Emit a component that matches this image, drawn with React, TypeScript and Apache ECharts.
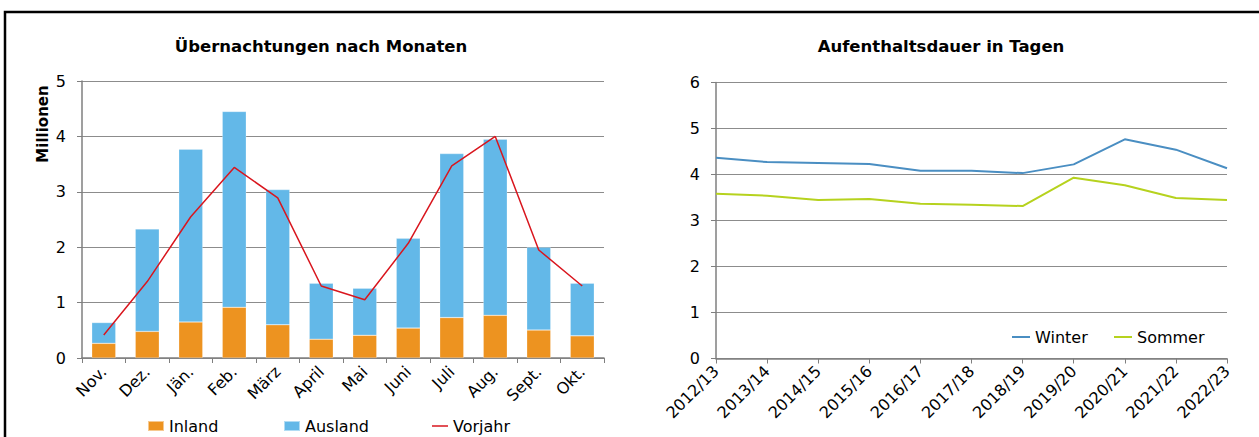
import React, { useEffect, useRef } from "react";
import * as echarts from "echarts";

const months = ["Nov.", "Dez.", "Jän.", "Feb.", "März", "April", "Mai", "Juni", "Juli", "Aug.", "Sept.", "Okt."];
const inland = [0.265, 0.48, 0.65, 0.915, 0.6, 0.34, 0.41, 0.54, 0.73, 0.77, 0.505, 0.4];
const ausland = [0.375, 1.85, 3.12, 3.535, 2.44, 1.01, 0.85, 1.62, 2.96, 3.18, 1.495, 0.95];
const vorjahr = [0.415, 1.38, 2.55, 3.44, 2.89, 1.3, 1.05, 2.07, 3.47, 4.0, 1.95, 1.3];

const seasons = ["2012/13", "2013/14", "2014/15", "2015/16", "2016/17", "2017/18", "2018/19", "2019/20", "2020/21", "2021/22", "2022/23"];
const winter = [4.365, 4.27, 4.25, 4.23, 4.08, 4.08, 4.03, 4.22, 4.765, 4.54, 4.135];
const sommer = [3.58, 3.54, 3.445, 3.47, 3.365, 3.34, 3.315, 3.93, 3.765, 3.49, 3.445];

const FONT = "DejaVu Sans";
const GRID = "#8c8c8c";
const AXIS = "#7f7f7f";

export default function App() {
  const ref = useRef<HTMLDivElement>(null);
  useEffect(() => {
    document.body.style.margin = "0";
    const chart = echarts.init(ref.current!, null, { renderer: "svg" });
    const axisLabel = { color: "#000", fontFamily: FONT, fontSize: 16 };
    const legendText = { fontFamily: FONT, fontSize: 16, color: "#000" };
    chart.setOption({
      animation: false,
      textStyle: { fontFamily: FONT },
      grid: [
        { left: 82, right: 655, top: 81, bottom: 79 },
        { left: 716, right: 32, top: 82.5, bottom: 78.5 },
      ],
      xAxis: [
        {
          gridIndex: 0,
          type: "category",
          data: months,
          boundaryGap: true,
          axisLine: { lineStyle: { color: AXIS, width: 1.5 } },
          axisTick: { show: true, length: 5, lineStyle: { color: AXIS } },
          axisLabel: { ...axisLabel, rotate: 45, margin: 11, interval: 0 },
        },
        {
          gridIndex: 1,
          type: "category",
          data: seasons,
          boundaryGap: false,
          axisLine: { lineStyle: { color: AXIS, width: 1.5 } },
          axisTick: { show: true, length: 5, lineStyle: { color: AXIS } },
          axisLabel: { ...axisLabel, rotate: 45, margin: 10, interval: 0 },
        },
      ],
      yAxis: [
        {
          gridIndex: 0,
          type: "value",
          min: 0,
          max: 5,
          interval: 1,
          axisLine: { show: true, lineStyle: { color: AXIS, width: 1.5 } },
          axisTick: { show: true, length: 5, inside: false, lineStyle: { color: AXIS } },
          axisLabel: { ...axisLabel, margin: 16 },
          splitLine: { lineStyle: { color: GRID, width: 1 } },
        },
        {
          gridIndex: 1,
          type: "value",
          min: 0,
          max: 6,
          interval: 1,
          axisLine: { show: true, lineStyle: { color: AXIS, width: 1.5 } },
          axisTick: { show: true, length: 5, lineStyle: { color: AXIS } },
          axisLabel: { ...axisLabel, margin: 16 },
          splitLine: { lineStyle: { color: GRID, width: 1 } },
        },
      ],
      legend: [
        { data: ["Inland"], left: 142, top: 413, itemWidth: 16, itemHeight: 10, icon: "rect", textStyle: legendText },
        { data: ["Ausland"], left: 278, top: 413, itemWidth: 16, itemHeight: 10, icon: "rect", textStyle: legendText },
        { data: ["Vorjahr"], left: 427, top: 413, itemWidth: 16, itemHeight: 1.5, icon: "rect", textStyle: legendText },
        { data: ["Winter"], left: 1007, top: 324, itemWidth: 18, itemHeight: 2, icon: "rect", textStyle: legendText },
        { data: ["Sommer"], left: 1109, top: 324, itemWidth: 18, itemHeight: 2, icon: "rect", textStyle: legendText },
      ],
      graphic: [
        {
          type: "polyline",
          shape: { points: [[5, 437], [5, 12], [1259, 12]] },
          style: { stroke: "#000", lineWidth: 2.5, fill: "none" },
          silent: true,
        },
        {
          type: "text",
          x: 321,
          y: 46,
          style: {
            text: "Übernachtungen nach Monaten",
            fontFamily: FONT,
            fontSize: 16.5,
            fontWeight: "bold",
            fill: "#000",
            textAlign: "center",
            textVerticalAlign: "middle",
          },
        },
        {
          type: "text",
          x: 941,
          y: 46,
          style: {
            text: "Aufenthaltsdauer in Tagen",
            fontFamily: FONT,
            fontSize: 16.5,
            fontWeight: "bold",
            fill: "#000",
            textAlign: "center",
            textVerticalAlign: "middle",
          },
        },
        {
          type: "text",
          x: 43,
          y: 124,
          rotation: Math.PI / 2,
          style: {
            text: "Millionen",
            fontFamily: FONT,
            fontSize: 15,
            fontWeight: "bold",
            fill: "#000",
            textAlign: "center",
            textVerticalAlign: "middle",
          },
        },
      ],
      series: [
        {
          name: "Inland",
          type: "bar",
          xAxisIndex: 0,
          yAxisIndex: 0,
          stack: "total",
          barWidth: 24,
          data: inland,
          itemStyle: { color: "#ED9320", borderColor: "rgba(255,255,255,0.5)", borderWidth: 0.5 },
        },
        {
          name: "Ausland",
          type: "bar",
          xAxisIndex: 0,
          yAxisIndex: 0,
          stack: "total",
          barWidth: 24,
          data: ausland,
          itemStyle: { color: "#63B8E8", borderColor: "rgba(255,255,255,0.5)", borderWidth: 0.5 },
        },
        {
          name: "Vorjahr",
          type: "line",
          xAxisIndex: 0,
          yAxisIndex: 0,
          data: vorjahr,
          showSymbol: false,
          symbol: "none",
          itemStyle: { color: "#D9161E" },
          lineStyle: { color: "#D9161E", width: 1.5 },
        },
        {
          name: "Winter",
          type: "line",
          xAxisIndex: 1,
          yAxisIndex: 1,
          data: winter,
          showSymbol: false,
          symbol: "none",
          itemStyle: { color: "#4A8EC2" },
          lineStyle: { color: "#4A8EC2", width: 2 },
        },
        {
          name: "Sommer",
          type: "line",
          xAxisIndex: 1,
          yAxisIndex: 1,
          data: sommer,
          showSymbol: false,
          symbol: "none",
          itemStyle: { color: "#B6D21E" },
          lineStyle: { color: "#B6D21E", width: 2 },
        },
      ],
    });
    return () => chart.dispose();
  }, []);
  return <div ref={ref} style={{ position: "absolute", left: 0, top: 0, width: 1259, height: 437 }} />;
}
